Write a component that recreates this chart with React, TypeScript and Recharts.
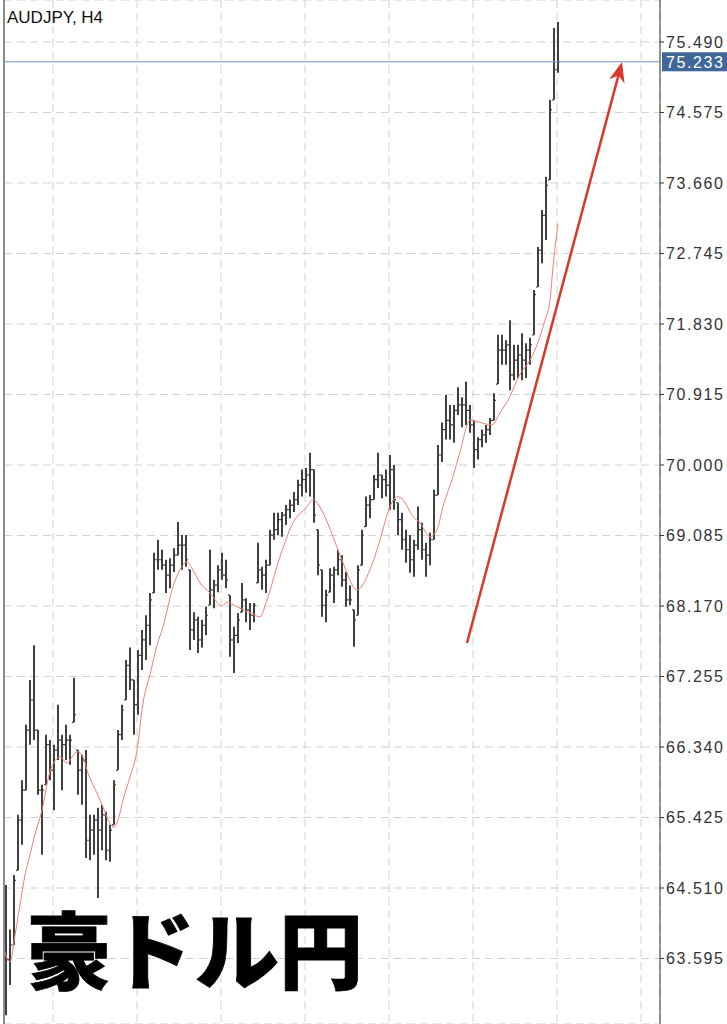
import { ComposedChart, Bar, Line, XAxis, YAxis, CartesianGrid, ReferenceLine } from 'recharts';

const highs = [
  64.55, 63.97, 64.68, 65.46, 65.91, 66.63, 67.21, 67.66, 66.56, 65.85,
  66.50, 66.43, 66.37, 66.89, 66.50, 66.63, 66.50, 67.24, 66.30, 66.24,
  66.30, 65.46, 65.46, 65.55, 65.59, 65.50, 65.33, 65.91, 66.56, 66.89,
  67.47, 67.63, 67.21, 67.60, 67.86, 68.05, 68.34, 68.86, 69.03, 68.90,
  68.77, 68.79, 68.92, 69.26, 69.09, 69.09, 68.64, 68.09, 68.03, 67.99,
  68.16, 68.90, 68.51, 68.70, 68.86, 68.77, 68.31, 67.90, 68.08, 68.47,
  68.27, 68.21, 68.21, 68.99, 68.68, 68.77, 69.16, 69.38, 69.38, 69.39,
  69.48, 69.55, 69.65, 69.81, 69.94, 69.96, 70.16, 69.94, 69.16, 68.64,
  68.38, 68.66, 68.68, 68.90, 68.83, 68.61, 68.44, 68.12, 68.70, 69.16,
  69.59, 69.61, 69.87, 70.16, 69.87, 69.94, 70.13, 70.00, 69.51, 69.38,
  69.16, 69.09, 69.03, 69.46, 69.25, 68.99, 69.12, 69.68, 70.26, 70.55,
  70.91, 70.78, 70.78, 71.01, 70.88, 71.08, 70.78, 70.58, 70.36, 70.46,
  70.52, 70.61, 70.93, 71.69, 71.69, 71.62, 71.88, 71.56, 71.56, 71.71,
  71.58, 71.65, 72.27, 72.83, 73.31, 73.74, 74.74, 75.67, 75.75,
];

const lows = [
  62.86, 63.25, 63.77, 64.74, 65.07, 65.78, 66.37, 66.43, 65.72, 64.94,
  65.85, 65.91, 65.52, 66.17, 65.78, 66.17, 66.11, 66.66, 65.72, 65.59,
  64.90, 64.87, 64.94, 64.38, 65.00, 64.87, 64.85, 65.33, 66.04, 66.43,
  66.95, 67.08, 66.50, 66.76, 67.34, 67.47, 67.66, 68.34, 68.64, 68.64,
  68.34, 68.40, 68.61, 68.83, 68.64, 68.68, 67.60, 67.73, 67.56, 67.63,
  67.79, 68.18, 68.14, 68.35, 68.51, 68.40, 67.51, 67.30, 67.69, 68.09,
  67.96, 67.86, 67.96, 68.47, 68.38, 68.34, 68.70, 69.03, 69.09, 69.07,
  69.22, 69.31, 69.39, 69.48, 69.59, 69.64, 69.59, 69.25, 68.57, 68.03,
  67.96, 68.35, 68.21, 68.57, 68.42, 68.16, 68.18, 67.64, 68.05, 68.70,
  69.20, 69.31, 69.55, 69.70, 69.57, 69.59, 69.42, 69.42, 69.09, 68.90,
  68.73, 68.60, 68.55, 68.90, 68.77, 68.55, 68.70, 69.03, 69.61, 70.04,
  70.33, 70.33, 70.29, 70.65, 70.49, 70.52, 70.42, 69.96, 70.07, 70.23,
  70.29, 70.39, 70.58, 71.05, 71.30, 71.30, 70.97, 71.10, 71.13, 71.10,
  71.13, 71.30, 71.69, 72.31, 72.62, 72.92, 73.70, 74.74, 75.09,
];

const closes = [
  63.58, 63.77, 64.61, 65.39, 65.78, 66.56, 66.95, 66.56, 65.78, 65.78,
  66.37, 66.04, 66.30, 66.43, 66.37, 66.43, 66.43, 66.76, 66.04, 66.17,
  65.13, 65.26, 65.39, 65.26, 65.46, 65.00, 65.26, 65.85, 66.50, 66.82,
  67.40, 67.21, 66.89, 67.53, 67.73, 67.92, 68.25, 68.77, 68.77, 68.70,
  68.57, 68.70, 68.83, 68.96, 68.96, 68.77, 67.86, 67.99, 67.73, 67.92,
  68.05, 68.38, 68.44, 68.64, 68.57, 68.51, 67.73, 67.79, 67.99, 68.25,
  68.12, 68.05, 68.18, 68.64, 68.57, 68.70, 69.09, 69.16, 69.29, 69.35,
  69.42, 69.48, 69.55, 69.74, 69.81, 69.87, 69.94, 69.35, 68.70, 68.18,
  68.31, 68.57, 68.64, 68.77, 68.51, 68.25, 68.25, 67.99, 68.64, 69.09,
  69.48, 69.55, 69.81, 69.87, 69.81, 69.74, 69.94, 69.55, 69.29, 69.03,
  68.90, 68.77, 68.96, 69.16, 68.90, 68.83, 69.03, 69.61, 70.13, 70.46,
  70.58, 70.52, 70.71, 70.78, 70.78, 70.71, 70.52, 70.20, 70.33, 70.39,
  70.46, 70.58, 70.84, 71.49, 71.49, 71.56, 71.17, 71.36, 71.43, 71.36,
  71.49, 71.56, 72.21, 72.79, 73.24, 73.63, 74.61, 75.13, 75.233,
];
const firstOpen = 64.3;

// red moving average (bar index, price)
const maIndex = [
  -0.5, 1, 2.25, 3.5, 4.75, 6, 7, 9, 11, 13.5, 15.25, 16.5, 17.75, 19.25, 20.5,
  22.75, 24.25, 26, 27, 28, 29.25, 31, 32.75, 34.25, 36, 37.75, 39.25, 41.75,
  43.5, 45.25, 47, 48.5, 51, 54, 55.25, 57.75, 61, 63.5, 65.25, 68.5, 71.75,
  75.25, 76.75, 79.25, 81.75, 84.25, 87.75, 91, 93.5, 96, 97.75, 99.25, 101.75,
  103.5, 106, 107.75, 109.25, 111.75, 113.5, 116, 118, 121.5, 123.5, 125.5,
  128.5, 131, 132.75, 134.75, 136, 136.75, 138,
];
const maValues = [
  63.71, 63.55, 63.90, 64.29, 64.68, 64.94, 65.16, 65.52, 66.02, 66.21, 66.13, 66.21, 66.28, 66.21, 66.00,
  65.74, 65.56, 65.35, 65.30, 65.39, 65.65, 65.95, 66.30, 66.91, 67.28, 67.66, 67.90, 68.42,
  68.64, 68.74, 68.61, 68.47, 68.34, 68.17, 68.22, 68.16, 68.08, 68.03, 68.25, 68.81, 69.25,
  69.46, 69.55, 69.38, 69.07, 68.73, 68.38, 68.64, 69.03, 69.46, 69.59, 69.55, 69.33,
  69.25, 69.07, 69.16, 69.46, 69.85, 70.17, 70.58, 70.56, 70.52, 70.68, 70.84,
  71.18, 71.36, 71.56, 71.88, 72.14, 72.57, 73.13,
];

const priceTicks = [63.595, 64.51, 65.425, 66.34, 67.255, 68.17, 69.085, 70.0, 70.915, 71.83, 72.745, 73.66, 74.575, 75.49];
const gridTimes = [11.75, 32.75, 53.75, 74.75, 95.75, 116.75, 137.75, 158.75];
const lastPrice = 75.233;
const arrowFrom = { i: 115.25, price: 67.69 };
const arrowTo = { i: 154, price: 75.23 };

const bars = highs.map((h, i) => ({
  i,
  range: [lows[i], h],
  high: h,
  low: lows[i],
  open: i === 0 ? firstOpen : closes[i - 1],
  close: closes[i],
}));
const maData = maIndex.map((i, k) => ({ i, ma: maValues[k] }));

const FONT = '"Liberation Sans", Arial, Helvetica, sans-serif';

const OhlcShape = (props: any) => {
  const { x, y, width, height, payload } = props;
  if (!payload) return null;
  const top = Math.min(y, y + height);
  const bottom = Math.max(y, y + height);
  const span = payload.high - payload.low || 1;
  const toY = (v: number) => {
    const c = Math.min(Math.max(v, payload.low), payload.high);
    return top + ((payload.high - c) / span) * (bottom - top);
  };
  const cx = Math.round(x + width / 2);
  const oy = toY(payload.open);
  const cy = toY(payload.close);
  return (
    <g stroke="#404040">
      <line x1={cx} x2={cx} y1={top} y2={bottom} strokeWidth={2} />
      <line x1={cx - 2} x2={cx} y1={oy} y2={oy} strokeWidth={1.2} />
      <line x1={cx} x2={cx + 2} y1={cy} y2={cy} strokeWidth={1.2} />
    </g>
  );
};

const PriceTick = ({ x, y, payload }: any) => (
  <text x={x} y={y} dy={5.8} textAnchor="start" fill="#333" fontSize={16} letterSpacing={1.6} fontFamily={FONT}>
    {Number(payload.value).toFixed(3)}
  </text>
);

const PriceTag = ({ viewBox }: any) => {
  if (!viewBox) return null;
  const x = viewBox.x + viewBox.width;
  const y = viewBox.y;
  return (
    <g>
      <rect x={x + 2} y={y - 9.5} width={67} height={19} fill="#3f6899" />
      <text x={x + 6} y={y + 6} fill="#fff" fontSize={16} letterSpacing={1.6} fontFamily={FONT}>
        {lastPrice.toFixed(3)}
      </text>
    </g>
  );
};

const ArrowShape = (props: any) => {
  const { x1, y1, x2, y2 } = props;
  const dx = x2 - x1;
  const dy = y2 - y1;
  const len = Math.sqrt(dx * dx + dy * dy) || 1;
  const ux = dx / len;
  const uy = dy / len;
  const px = -uy;
  const py = ux;
  const back = (d: number, s: number) => `${x2 - ux * d + px * s},${y2 - uy * d + py * s}`;
  return (
    <g>
      <line x1={x1} y1={y1} x2={x2 - ux * 12} y2={y2 - uy * 12} stroke="#d8392b" strokeWidth={2.5} />
      <polygon points={`${x2},${y2} ${back(20, 8)} ${back(14, 0)} ${back(20, -8)}`} fill="#d8392b" />
    </g>
  );
};

export default function App() {
  return (
    <div style={{ position: 'absolute', left: 0, top: 0, width: 727, height: 1024, background: '#fff', overflow: 'hidden' }}>
      <ComposedChart width={727} height={1024} data={bars} margin={{ top: 0, right: 0, left: 4, bottom: 0 }}>
        <CartesianGrid stroke="#d2d2d2" strokeDasharray="8 5" />
        <XAxis dataKey="i" type="number" domain={[-0.5, 163.5]} ticks={gridTimes} allowDataOverflow hide />
        <YAxis
          orientation="right"
          type="number"
          domain={[62.745, 76.035]}
          ticks={priceTicks}
          allowDataOverflow
          width={67}
          axisLine={{ stroke: '#333' }}
          tickLine={{ stroke: '#333' }}
          tickSize={4}
          tickMargin={2}
          tick={<PriceTick />}
        />
        <ReferenceLine x={-0.5} stroke="#8c8c8c" strokeWidth={2} />
        <ReferenceLine y={lastPrice} stroke="#7391c0" strokeWidth={1} label={<PriceTag />} />
        <Bar dataKey="range" barSize={3} shape={<OhlcShape />} isAnimationActive={false} />
        <Line
          data={maData}
          dataKey="ma"
          type="monotone"
          stroke="#f27f72"
          strokeWidth={1}
          dot={false}
          activeDot={false}
          isAnimationActive={false}
        />
        <ReferenceLine
          segment={[
            { x: arrowFrom.i, y: arrowFrom.price },
            { x: arrowTo.i, y: arrowTo.price },
          ]}
          shape={<ArrowShape />}
          ifOverflow="visible"
        />
      </ComposedChart>
      <svg width={727} height={1024} style={{ position: 'absolute', left: 0, top: 0, pointerEvents: 'none' }}>
        <text x={7} y={23} fontSize={17} fill="#111" fontFamily={FONT}>
          AUDJPY, H4
        </text>
        <text
          x={27}
          y={983}
          fontSize={84}
          fontWeight={900}
          fill="#000"
          stroke="#000"
          strokeWidth={0.8}
          fontFamily={'"Noto Sans CJK JP", "Noto Sans CJK SC", sans-serif'}
        >
          豪ドル円
        </text>
      </svg>
    </div>
  );
}
